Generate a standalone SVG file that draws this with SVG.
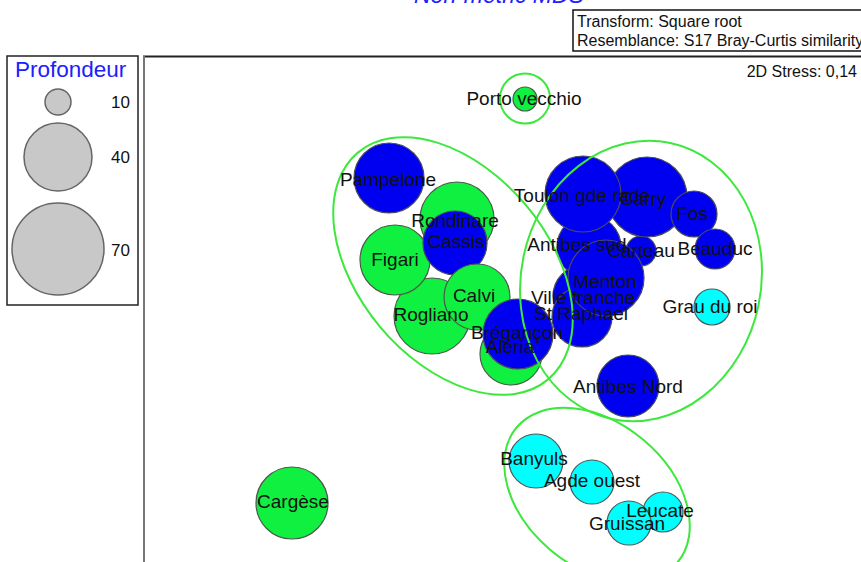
<svg xmlns="http://www.w3.org/2000/svg" width="861" height="562" viewBox="0 0 861 562">
<style>
  .lbl { font-family: "Liberation Sans", Arial, sans-serif; font-size: 19px; fill: #111; text-anchor: middle; }
  .b { fill: #0000f0; stroke: #4a4a5a; stroke-width: 1.2; }
  .g { fill: #10f040; stroke: #4a5a4a; stroke-width: 1.2; }
  .c { fill: #00ffff; stroke: #4a5a5a; stroke-width: 1.2; }
  .leg { fill: #c8c8c8; stroke: #666; stroke-width: 1.5; }
  .ell { fill: none; stroke: #3ce83c; stroke-width: 2; }
  .sm { font-family: "Liberation Sans", Arial, sans-serif; font-size: 16px; fill: #111; }
</style>
<rect width="861" height="562" fill="#fff"/>
<text x="414" y="3" style="font-family:'Liberation Sans',Arial,sans-serif;font-size:23px;font-style:italic;fill:#2020ff">Non-metric MDS</text>
<g id="info">
  <rect x="573" y="10" width="300" height="41" fill="#fff" stroke="#111" stroke-width="1.5"/>
  <text class="sm" x="577" y="27">Transform: Square root</text>
  <text class="sm" x="577" y="46">Resemblance: S17 Bray-Curtis similarity</text>
</g>
<g id="frame">
  <line x1="143" y1="56.5" x2="861" y2="56.5" stroke="#222" stroke-width="2"/>
  <line x1="144" y1="56" x2="144" y2="562" stroke="#777" stroke-width="2"/>
  <text class="sm" x="857" y="77" text-anchor="end">2D Stress: 0,14</text>
</g>
<g id="legend">
  <rect x="7" y="56" width="131" height="249" fill="#fff" stroke="#222" stroke-width="1.5"/>
  <text x="15" y="77" style="font-family:'Liberation Sans',Arial,sans-serif;font-size:22.5px;fill:#2020ff">Profondeur</text>
  <circle class="leg" cx="58" cy="102" r="13"/>
  <circle class="leg" cx="58" cy="157" r="34"/>
  <circle class="leg" cx="58" cy="249" r="46"/>
  <text class="sm" x="111" y="108" style="font-size:17px">10</text>
  <text class="sm" x="111" y="163" style="font-size:17px">40</text>
  <text class="sm" x="111" y="256" style="font-size:17px">70</text>
</g>
<g id="points">
  <g id="n-porto-vecchio"><circle class="g" cx="525" cy="99" r="12"/></g>
  <g id="n-pampelone"><circle class="b" cx="389" cy="178" r="35"/></g>
  <g id="n-rondinare"><circle class="g" cx="457" cy="219" r="37"/></g>
  <g id="n-rogliano"><circle class="g" cx="432" cy="316" r="38"/></g>
  <g id="n-figari"><circle class="g" cx="395" cy="260" r="35"/></g>
  <g id="n-cassis"><circle class="b" cx="455" cy="243" r="32"/></g>
  <g id="n-calvi"><circle class="g" cx="477" cy="297" r="33"/></g>
  <g id="n-aleria"><circle class="g" cx="511" cy="354" r="31"/></g>
  <g id="n-bregancon"><circle class="b" cx="518" cy="334" r="35"/></g>
  <g id="n-antibes-sud"><circle class="b" cx="589" cy="247" r="32"/></g>
  <g id="n-carteau"><circle class="b" cx="641" cy="251" r="15"/></g>
  <g id="n-villefranche"><circle class="b" cx="584" cy="296" r="31"/></g>
  <g id="n-st-raphael"><circle class="b" cx="582" cy="317" r="30"/></g>
  <g id="n-menton"><circle class="b" cx="606" cy="278" r="38"/></g>
  <g id="n-carry"><circle class="b" cx="647" cy="197" r="40"/></g>
  <g id="n-toulon"><circle class="b" cx="583" cy="194" r="38"/></g>
  <g id="n-fos"><circle class="b" cx="694" cy="214" r="23"/></g>
  <g id="n-beauduc"><circle class="b" cx="715" cy="249" r="20"/></g>
  <g id="n-antibes-nord"><circle class="b" cx="628" cy="386" r="31"/></g>
  <g id="n-grau-du-roi"><circle class="c" cx="712" cy="307" r="18"/></g>
  <g id="n-banyuls"><circle class="c" cx="536" cy="461" r="27"/></g>
  <g id="n-agde-ouest"><circle class="c" cx="592" cy="482" r="22"/></g>
  <g id="n-leucate"><circle class="c" cx="663" cy="512" r="20"/></g>
  <g id="n-gruissan"><circle class="c" cx="629" cy="523" r="22"/></g>
  <g id="n-cargese"><circle class="g" cx="292" cy="503" r="36"/></g>
</g>
<g id="clusters">
  <circle class="ell" cx="525" cy="98.5" r="25"/>
  <ellipse class="ell" cx="453" cy="266" rx="148" ry="95" transform="rotate(50 453 266)"/>
  <ellipse class="ell" cx="641" cy="281" rx="120" ry="141" transform="rotate(12 641 281)"/>
  <ellipse class="ell" cx="597" cy="495" rx="105" ry="72" transform="rotate(40 597 495)"/>
</g>
<g id="labels">
  <text class="lbl" x="524" y="105">Porto vecchio</text>
  <text class="lbl" x="388" y="186">Pampelone</text>
  <text class="lbl" x="455" y="227">Rondinare</text>
  <text class="lbl" x="456" y="248">Cassis</text>
  <text class="lbl" x="395" y="266">Figari</text>
  <text class="lbl" x="474" y="302">Calvi</text>
  <text class="lbl" x="431" y="321">Rogliano</text>
  <text class="lbl" x="517" y="339">Brégançon</text>
  <text class="lbl" x="510" y="353">Aléria</text>
  <text class="lbl" x="582" y="202">Toulon gde rade</text>
  <text class="lbl" x="643" y="205">Carry</text>
  <text class="lbl" x="692" y="220">Fos</text>
  <text class="lbl" x="715" y="255">Beauduc</text>
  <text class="lbl" x="577" y="251">Antibes sud</text>
  <text class="lbl" x="641" y="257">Carteau</text>
  <text class="lbl" x="605" y="288">Menton</text>
  <text class="lbl" x="583" y="304">Ville franche</text>
  <text class="lbl" x="581" y="320">St Raphael</text>
  <text class="lbl" x="710" y="313">Grau du roi</text>
  <text class="lbl" x="628" y="393">Antibes Nord</text>
  <text class="lbl" x="534" y="465">Banyuls</text>
  <text class="lbl" x="592" y="487">Agde ouest</text>
  <text class="lbl" x="660" y="517">Leucate</text>
  <text class="lbl" x="627" y="530">Gruissan</text>
  <text class="lbl" x="293" y="508">Cargèse</text>
</g>
</svg>
